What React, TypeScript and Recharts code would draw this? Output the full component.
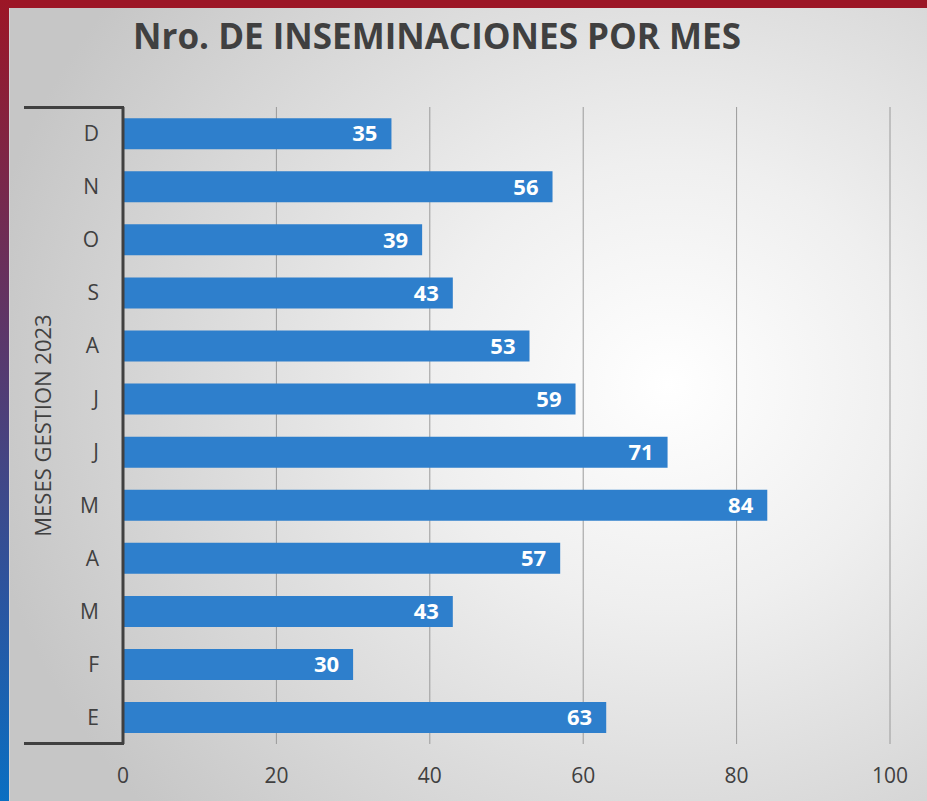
import React from "react";
import {
  BarChart,
  Bar,
  XAxis,
  YAxis,
  CartesianGrid,
  LabelList,
} from "recharts";

// months from top (Dec) to bottom (Jan)
const months = ["D", "N", "O", "S", "A", "J", "J", "M", "A", "M", "F", "E"];
const inseminations = [35, 56, 39, 43, 53, 59, 71, 84, 57, 43, 30, 63];
const xTicks = [0, 20, 40, 60, 80, 100];

const data = months.map((m, i) => ({ month: m, value: inseminations[i] }));

const TEXT = "#404040";
const FONT = "'Open Sans', 'DejaVu Sans', sans-serif";

export default function App() {
  return (
    <div
      style={{
        position: "absolute",
        left: 0,
        top: 0,
        width: 927,
        height: 801,
        overflow: "hidden",
        background:
          "radial-gradient(ellipse 75% 80% at 72% 48%, #ffffff 0%, #efefef 35%, #c6c6c6 100%)",
        fontFamily: FONT,
      }}
    >
      {/* frame */}
      <div style={{ position: "absolute", left: 0, top: 0, width: 927, height: 8, background: "#9c1626" }} />
      <div
        style={{
          position: "absolute",
          left: 0,
          top: 0,
          width: 9,
          height: 801,
          background: "linear-gradient(to bottom, #9c1626 0%, #5e3566 40%, #2a55a0 75%, #0a6fc2 100%)",
        }}
      />
      <div style={{ position: "absolute", left: 9, top: 8, width: 1, height: 793, background: "#d4d4d4" }} />

      <div
        style={{
          position: "absolute",
          left: 0,
          top: 12,
          width: 874,
          textAlign: "center",
          fontSize: 35,
          fontWeight: 700,
          color: TEXT,
          whiteSpace: "nowrap",
        }}
      >
        Nro. DE INSEMINACIONES POR MES
      </div>

      {/* bracket caps on the category axis */}
      <div style={{ position: "absolute", left: 24, top: 106, width: 100, height: 3, background: TEXT }} />
      <div style={{ position: "absolute", left: 24, top: 742, width: 100, height: 3, background: TEXT }} />

      <div style={{ position: "absolute", left: 0, top: 0 }}>
        <BarChart
          width={927}
          height={801}
          data={data}
          layout="vertical"
          margin={{ top: 107, right: 37, bottom: 17, left: 23 }}
          barCategoryGap="21%"
        >
          <CartesianGrid horizontal={false} stroke="#9a9a9a" strokeWidth={1} />
          <XAxis
            type="number"
            domain={[0, 100]}
            ticks={xTicks}
            height={40}
            axisLine={false}
            tickLine={false}
            tickMargin={18}
            tick={{ fill: TEXT, fontSize: 21, fontFamily: FONT }}
          />
          <YAxis
            type="category"
            dataKey="month"
            width={100}
            allowDuplicatedCategory
            axisLine={{ stroke: TEXT, strokeWidth: 3 }}
            tickLine={false}
            tickMargin={18}
            tick={{ fill: TEXT, fontSize: 21, fontFamily: FONT }}
            label={{
              content: ({ viewBox }: any) => {
                const cx = viewBox.x + 19;
                const cy = viewBox.y + viewBox.height / 2;
                return (
                  <text
                    x={cx}
                    y={cy}
                    transform={`rotate(-90 ${cx} ${cy})`}
                    textAnchor="middle"
                    dominantBaseline="central"
                    fill={TEXT}
                    fontSize={22}
                    fontFamily={FONT}
                  >
                    MESES GESTION 2023
                  </text>
                );
              },
            }}
          />
          <Bar dataKey="value" fill="#2e7fcc" isAnimationActive={false}>
            <LabelList
              dataKey="value"
              position="insideRight"
              offset={14}
              fill="#ffffff"
              fontSize={22}
              fontWeight={700}
              fontFamily={FONT}
            />
          </Bar>
        </BarChart>
      </div>
    </div>
  );
}
